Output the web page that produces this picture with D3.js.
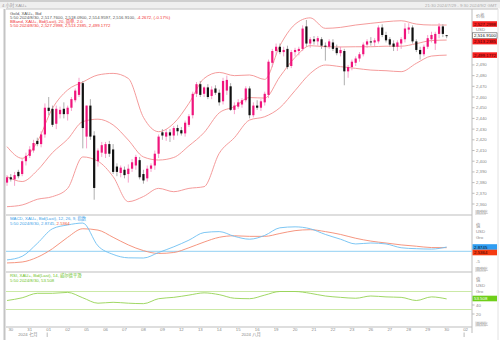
<!DOCTYPE html>
<html><head><meta charset="utf-8">
<script src="https://cdn.jsdelivr.net/npm/d3@7"></script>
<style>
body{margin:0;background:#fff;overflow:hidden}
text{font-family:"Liberation Sans","Noto Sans CJK SC",Arial,sans-serif}
</style></head><body>
<svg id="c" width="500" height="340"></svg>
<script>
// ---------- DATA ----------
const opens  = [2380,2385,2383,2390,2388,2400,2405,2410,2419,2416,2425,2450,2449,2435,2444,2449,2444,2450,2457,2462,2473,2423,2452,2424,2400,2408,2407,2416,2411,2395,2389,2392,2388,2393,2396,2401,2388,2384,2393,2396,2407,2427,2423,2427,2424,2431,2429,2426,2434,2443,2463,2472,2463,2469,2461,2468,2464,2456,2466,2470,2448,2451,2453,2457,2468,2443,2452,2450,2455,2462,2492,2503,2507,2502,2505,2489,2502,2503,2505,2526,2510,2514,2512,2514,2508,2507,2511,2506,2501,2503,2484,2488,2492,2496,2500,2509,2512,2511,2512,2525,2518,2514,2510,2507,2510,2514,2523,2525,2512,2504,2500,2507,2514,2510,2519,2526,2517.76];
const highs  = [2387,2388,2390,2392,2402,2408,2414,2420,2422,2428,2454,2460,2452,2452,2451,2455,2452,2460,2468,2478,2475,2452,2458,2428,2412,2418,2418,2419,2416,2398,2396,2395,2397,2402,2406,2404,2392,2396,2398,2410,2425,2430,2430,2430,2433,2434,2432,2438,2444,2465,2474,2475,2470,2472,2470,2471,2467,2478,2480,2473,2455,2458,2459,2470,2470,2455,2457,2458,2465,2495,2505,2510,2510,2507,2508,2504,2506,2507,2527,2532,2516,2517,2517,2516,2511,2514,2514,2509,2507,2505,2490,2495,2498,2502,2511,2514,2516,2515,2527,2528,2521,2516,2513,2513,2516,2529,2529,2527,2514,2507,2509,2518,2521,2521,2529,2528,2518.09];
const lows   = [2377,2381,2377,2384,2386,2396,2403,2408,2414,2413,2422,2443,2432,2430,2440,2440,2438,2447,2455,2460,2412,2412,2420,2364,2395,2404,2403,2404,2388,2386,2385,2384,2380,2390,2392,2383,2379,2381,2390,2392,2403,2420,2419,2418,2420,2424,2424,2423,2432,2440,2460,2460,2460,2458,2458,2462,2452,2453,2462,2447,2444,2449,2450,2455,2440,2441,2448,2447,2452,2459,2488,2499,2500,2498,2486,2487,2498,2499,2503,2507,2506,2509,2508,2505,2494,2505,2503,2499,2498,2471,2478,2485,2489,2493,2498,2506,2508,2507,2510,2516,2511,2507,2503,2503,2505,2511,2519,2510,2502,2495,2498,2505,2511,2504,2515,2516,2514.96];
const closes = [2385,2383,2387,2386,2400,2405,2411,2417,2416,2425,2450,2447,2434,2449,2448,2444,2450,2458,2466,2474,2431,2452,2423,2375,2410,2415,2416,2407,2390,2390,2394,2387,2393,2399,2404,2385,2382,2393,2396,2407,2423,2424,2427,2424,2431,2428,2426,2436,2442,2463,2472,2462,2469,2460,2467,2464,2455,2475,2476,2448,2452,2455,2457,2468,2443,2452,2450,2456,2463,2493,2503,2507,2502,2504,2488,2502,2504,2505,2524,2510,2514,2512,2515,2508,2507,2512,2505,2501,2504,2484,2488,2493,2496,2500,2509,2512,2511,2513,2525,2518,2513,2509,2507,2511,2514,2524,2525,2512,2504,2500,2507,2515,2518,2519,2526,2519,2516.91];

// indicator samples (bar index of each sample)
const sampleIdx = [0,4,8,12,16,20,24,28,32,36,40,44,48,52,56,60,64,68,72,76,80,84,88,92,96,100,104,108,112,116];
const bbUpper = [2413.6,2402.7,2418.3,2449.4,2466.6,2474,2480.6,2482.1,2477.4,2441,2427.6,2435.4,2454.1,2477.4,2483,2480,2480.6,2476.5,2508,2528,2534,2524.2,2525.1,2527.3,2528.9,2530.4,2531.3,2528.2,2527.3,2527.2998];
const bbMid   = [2385.6,2381,2391.4,2408,2420.6,2437,2439.3,2433.9,2419.8,2404,2401.1,2403.5,2414.4,2426.8,2445.2,2451,2459.5,2459,2479,2497,2508,2507,2506.8,2507,2507,2507.5,2507.5,2509.9,2512.8,2513.2385];
const bbLower = [2357.5,2359.1,2364.4,2366.9,2374.6,2404,2400,2385.6,2362.2,2367,2374.6,2371.5,2374.6,2376.2,2407.4,2422,2438.5,2441.6,2450,2466,2482,2489.9,2488.4,2486.8,2485.2,2484.6,2483.7,2491.5,2498.3,2499.1772];
const macdLine   = [-3.9,-2,4.8,12.5,14.5,15.5,3.5,-1,-2.8,-2.9,0,3,6.5,10.5,11,8.5,7,9,13,13.5,12.5,9.5,7,4.5,5,4.5,2.5,2,1.8,2.8745];
const signalLine = [-5.5,-5,-2.5,2,8,12.5,11.8,8,4,1,-0.5,0,2.5,5.5,8,8.8,8.5,8.5,10,11.5,12,11,9.5,7.5,6,5,4,3.3,2.6,2.5364];
const rsiLine    = [50,56,66,66,68,56,44,46,44,43,54,57,62,67,63,55,54,62,70,70,66,60,57,55,60,58,57,50,58,53.508];

const dayLabels = ["30","31","01","02","05","06","07","08","09","12","13","14","15","16","19","20","21","22","23","26","27","28","29","30","02"];
const dayIdx    = [1,6,11,16,21,26,31,36,41,46,51,56,61,66,71,76,81,86,91,96,101,106,111,116,121];
const monthLabels = ["2024 七月","2024 八月"];
const monthIdx = [5.5,64.4];
const priceTicks = [2360,2370,2380,2390,2400,2410,2420,2430,2440,2450,2460,2470,2480,2490];

// ---------- LAYOUT ----------
const svg = d3.select("#c");
const L=6, R=472, T=9, mainB=215, macdB=272, rsiB=327;
const x = d3.scaleLinear().domain([0,121]).range([7,465.6]);
const yP = d3.scaleLinear().domain([2350,2542]).range([214.7,9.3]);
const yM = d3.scaleLinear().domain([-5,5]).range([262,243]);
const yR = d3.scaleLinear().domain([20,40]).range([314,305]);

const C = {pink:"#f0147c", pinkWick:"#f48cbe", blk:"#111", blkWick:"#999", bb:"#f39090",
  macd:"#6ec0f2", sig:"#f48a72", rsi:"#95d254", rsiLvl:"#cbe9a6", grid:"#bdbdbd", txt:"#888"};

// header
svg.append("rect").attr("x",0).attr("y",0).attr("width",500).attr("height",8.5).attr("fill","#efefef");
svg.append("rect").attr("x",0).attr("y",0).attr("width",500).attr("height",2).attr("fill","#cfcfcf");
svg.append("text").attr("x",2).attr("y",6.8).attr("font-size",4.3).attr("fill","#999").text("4 小时 XAU+");
svg.append("text").attr("x",497).attr("y",6.8).attr("font-size",4.3).attr("fill","#aaa").attr("text-anchor","end").text("21:30 2024/7/29 - 9:30 2024/9/2 GMT");

// frame
const frame = svg.append("g").attr("stroke",C.grid).attr("fill","none");
frame.append("line").attr("x1",L).attr("x2",498).attr("y1",T).attr("y2",T);
frame.append("line").attr("x1",L).attr("x2",R).attr("y1",mainB).attr("y2",mainB);
frame.append("line").attr("x1",L).attr("x2",R).attr("y1",macdB).attr("y2",macdB);
frame.append("line").attr("x1",L).attr("x2",R).attr("y1",rsiB).attr("y2",rsiB);
frame.append("line").attr("x1",R).attr("x2",R).attr("y1",T).attr("y2",rsiB+6);
frame.append("line").attr("x1",498).attr("x2",498).attr("y1",T).attr("y2",340).attr("stroke","#e2e2e2");
svg.append("rect").attr("x",3.5).attr("y",T).attr("width",2).attr("height",331).attr("fill","#c4c4c4");

// clip
svg.append("clipPath").attr("id","cp").append("rect").attr("x",L).attr("y",T).attr("width",R-L).attr("height",rsiB-T);

const plot = svg.append("g").attr("clip-path","url(#cp)");

// Bollinger bands
const bbLine = arr => d3.line().x((d,i)=>x(sampleIdx[i])).y(d=>yP(d)).curve(d3.curveMonotoneX)(arr);
[bbUpper,bbMid,bbLower].forEach(a=>plot.append("path").attr("d",bbLine(a)).attr("fill","none").attr("stroke",C.bb).attr("stroke-width",0.9));

// candles
const idx = d3.range(closes.length);
const cg = plot.append("g");
cg.selectAll("line.w").data(idx).join("line")
  .attr("x1",i=>x(i)).attr("x2",i=>x(i)).attr("y1",i=>yP(highs[i])).attr("y2",i=>yP(lows[i]))
  .attr("stroke",i=>closes[i]>=opens[i]?C.pinkWick:C.blkWick).attr("stroke-width",0.8);
cg.selectAll("rect.b").data(idx).join("rect")
  .attr("x",i=>x(i)-1.1).attr("width",2.2)
  .attr("y",i=>yP(Math.max(opens[i],closes[i])))
  .attr("height",i=>Math.max(0.8,Math.abs(yP(opens[i])-yP(closes[i]))))
  .attr("fill",i=>closes[i]>=opens[i]?C.pink:C.blk);

// MACD
plot.append("line").attr("x1",L).attr("x2",R).attr("y1",yM(0.6)).attr("y2",yM(0.6)).attr("stroke","#a7d9f5").attr("stroke-width",1.2);
const mLine = arr => d3.line().x((d,i)=>x(sampleIdx[i])).y(d=>yM(d)).curve(d3.curveMonotoneX)(arr);
plot.append("path").attr("d",mLine(signalLine)).attr("fill","none").attr("stroke",C.sig).attr("stroke-width",0.9);
plot.append("path").attr("d",mLine(macdLine)).attr("fill","none").attr("stroke",C.macd).attr("stroke-width",0.9);

// RSI
[70,30].forEach(v=>plot.append("line").attr("x1",L).attr("x2",R).attr("y1",yR(v)).attr("y2",yR(v)).attr("stroke",C.rsiLvl).attr("stroke-width",1));
const rLine = d3.line().x((d,i)=>x(sampleIdx[i])).y(d=>yR(d)).curve(d3.curveMonotoneX);
plot.append("path").attr("d",rLine(rsiLine)).attr("fill","none").attr("stroke",C.rsi).attr("stroke-width",0.9);

// right price axis
const ax = svg.append("g").attr("font-size",4.3).attr("fill",C.txt);
priceTicks.forEach(v=>{
  ax.append("line").attr("x1",R).attr("x2",R+2.5).attr("y1",yP(v)).attr("y2",yP(v)).attr("stroke","#bbb");
  ax.append("text").attr("x",R+4).attr("y",yP(v)+1.5).text(d3.format(",")(v));
});
ax.append("text").attr("x",R+4).attr("y",17).text("价格");
ax.append("text").attr("x",R+4).attr("y",31.3).text("USD");

function box(yc,txt,fill,col,stroke){
  const g=svg.append("g");
  g.append("rect").attr("x",R+0.5).attr("y",yc-2.8).attr("width",24.5).attr("height",5.6).attr("fill",fill).attr("stroke",stroke||"none").attr("stroke-width",0.5);
  g.append("text").attr("x",R+2).attr("y",yc+1.6).attr("font-size",4.4).attr("fill",col).text(txt);
}
box(yP(bbUpper[29])-1,"2,527.2998","#f52020","#400");
box(yP(closes[116])-0.5,"2,516.9100","#fff","#111","#333");
box(yP(bbMid[29])+1.5,"2,513.2385","#f52020","#400");
box(yP(bbLower[29]),"2,499.1772","#f52020","#400");

function tag(yc){svg.append("rect").attr("x",R+3).attr("y",yc-2.5).attr("width",11).attr("height",5).attr("fill","#e6e6e6");
 svg.append("text").attr("x",R+4).attr("y",yc+1.5).attr("font-size",4).attr("fill","#999").text("百分比");}
tag(212.5); tag(269.5); tag(324);

// MACD axis
ax.append("text").attr("x",R+4).attr("y",227).text("值");
ax.append("text").attr("x",R+4).attr("y",233).text("USD");
ax.append("text").attr("x",R+4).attr("y",239).text("Gro");
ax.append("text").attr("x",R+4).attr("y",262.5).text("-5");
box(247,"2.8745","#2f9df2","#012");
box(252.5,"2.5364","#f53a10","#300");
// RSI axis
ax.append("text").attr("x",R+4).attr("y",281).text("值");
ax.append("text").attr("x",R+4).attr("y",287).text("USD");
ax.append("text").attr("x",R+4).attr("y",293).text("Gro");
[40,20].forEach(v=>{ax.append("line").attr("x1",R).attr("x2",R+2.5).attr("y1",yR(v)).attr("y2",yR(v)).attr("stroke","#bbb");
  ax.append("text").attr("x",R+4).attr("y",yR(v)+1.5).text(v);});
box(298.5,"53.508","#6fcf1a","#fff");

// x axis
const xa = svg.append("g").attr("font-size",4.3).attr("fill",C.txt).attr("text-anchor","middle");
dayLabels.forEach((d,i)=>{
  xa.append("text").attr("x",x(dayIdx[i])).attr("y",330.5).text(d);
});
monthLabels.forEach((m,i)=>xa.append("text").attr("x",x(monthIdx[i])).attr("y",336).text(m));
[11,121].forEach(i=>xa.append("line").attr("x1",x(i)-1.5).attr("x2",x(i)-1.5).attr("y1",332.5).attr("y2",337).attr("stroke","#bbb"));

// legends
const lg = svg.append("g").attr("font-size",4.3);
lg.append("text").attr("x",10).attr("y",14.5).attr("fill","#555").text("Gold, XAU+, Bid");
const t2 = lg.append("text").attr("x",10).attr("y",19);
t2.append("tspan").attr("fill","#555").text("5:50 2024/8/30, 2,517.7600, 2,518.0900, 2,514.9597, 2,516.9100, ");
t2.append("tspan").attr("fill","#f03030").text("-4.2672, (-0.17%)");
lg.append("text").attr("x",10).attr("y",23).attr("fill","#f03030").text("BBand, XAU+, Bid(Last), 20, 简单, 2.0");
lg.append("text").attr("x",10).attr("y",27).attr("fill","#f03030").text("5:50 2024/8/30, 2,527.2998, 2,513.2385, 2,499.1772");
lg.append("text").attr("x",10).attr("y",220).attr("fill","#3aa0e8").text("MACD, XAU+, Bid(Last), 12, 26, 9, 指数");
const t3 = lg.append("text").attr("x",10).attr("y",224.5);
t3.append("tspan").attr("fill","#3aa0e8").text("5:50 2024/8/30, 2.8745, ");
t3.append("tspan").attr("fill","#f05030").text("2.5364");
lg.append("text").attr("x",10).attr("y",277).attr("fill","#6cbf1e").text("RSI, XAU+, Bid(Last), 14, 威尔德平滑");
lg.append("text").attr("x",10).attr("y",281.5).attr("fill","#6cbf1e").text("5:50 2024/8/30, 53.508");
</script></body></html>
